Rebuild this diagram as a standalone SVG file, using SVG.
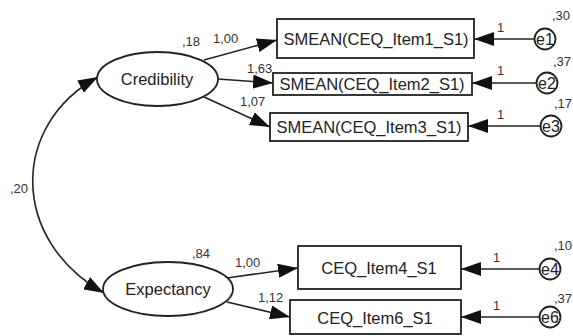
<svg xmlns="http://www.w3.org/2000/svg" width="573" height="336" viewBox="0 0 573 336">
<defs>
<style>
.node{fill:#fff;stroke:#222;stroke-width:1.8}
.t{font-family:"Liberation Sans",Arial,sans-serif;font-size:16.5px;fill:#222;text-anchor:middle;dominant-baseline:central}
.et{font-family:"Liberation Sans",Arial,sans-serif;font-size:16px;fill:#222;text-anchor:middle;dominant-baseline:central}
.lb{font-family:"Liberation Sans",Arial,sans-serif;font-size:13px;fill:#333}
.c{fill:none;stroke:#222;stroke-width:1.6}
</style>
<marker id="ah" markerUnits="userSpaceOnUse" markerWidth="20" markerHeight="14" viewBox="0 0 20 14" refX="20" refY="7" orient="auto-start-reverse">
<path d="M0,0 L20,7 L0,14 Z" fill="#111"/>
</marker>
</defs>
<rect width="573" height="336" fill="#fff"/>
<g id="connectors">
<path class="c" d="M98,77 C10,125 10,240 104,293" marker-start="url(#ah)" marker-end="url(#ah)"/>
<line class="c" x1="204" y1="60" x2="277" y2="40" marker-end="url(#ah)"/>
<line class="c" x1="218" y1="79" x2="273" y2="83" marker-end="url(#ah)"/>
<line class="c" x1="204" y1="97" x2="270" y2="127" marker-end="url(#ah)"/>
<line class="c" x1="227" y1="278" x2="298" y2="268" marker-end="url(#ah)"/>
<line class="c" x1="227" y1="302" x2="290" y2="317" marker-end="url(#ah)"/>
<line class="c" x1="534" y1="39" x2="474" y2="39" marker-end="url(#ah)"/>
<line class="c" x1="537" y1="83" x2="472" y2="83" marker-end="url(#ah)"/>
<line class="c" x1="541" y1="126" x2="468" y2="126" marker-end="url(#ah)"/>
<line class="c" x1="540" y1="269" x2="461" y2="269" marker-end="url(#ah)"/>
<line class="c" x1="540" y1="317" x2="461" y2="317" marker-end="url(#ah)"/>
</g>
<g id="credibility"><ellipse class="node" cx="157.5" cy="79" rx="60.5" ry="27"/><text class="t" x="157" y="79">Credibility</text></g>
<g id="expectancy"><ellipse class="node" cx="168" cy="289" rx="65" ry="27"/><text class="t" x="168" y="289">Expectancy</text></g>
<g id="item1"><rect class="node" x="277" y="19" width="197" height="39"/><text class="t" x="376" y="39">SMEAN(CEQ_Item1_S1)</text></g>
<g id="item2"><rect class="node" x="273" y="73" width="199" height="22"/><text class="t" x="372" y="84">SMEAN(CEQ_Item2_S1)</text></g>
<g id="item3"><rect class="node" x="270" y="113" width="198" height="28"/><text class="t" x="369" y="127">SMEAN(CEQ_Item3_S1)</text></g>
<g id="item4"><rect class="node" x="298" y="246" width="163" height="43"/><text class="t" x="379" y="268">CEQ_Item4_S1</text></g>
<g id="item6"><rect class="node" x="290" y="300" width="171" height="34"/><text class="t" x="375" y="318">CEQ_Item6_S1</text></g>
<g id="e1"><circle class="node" cx="545" cy="39" r="10.5"/><text class="et" x="545" y="39">e1</text></g>
<g id="e2"><circle class="node" cx="547" cy="83" r="10.5"/><text class="et" x="547" y="83">e2</text></g>
<g id="e3"><circle class="node" cx="551" cy="126" r="10.5"/><text class="et" x="551" y="126">e3</text></g>
<g id="e4"><circle class="node" cx="550" cy="269" r="10.5"/><text class="et" x="550" y="269">e4</text></g>
<g id="e6"><circle class="node" cx="550" cy="317" r="10.5"/><text class="et" x="550" y="317">e6</text></g>
<g id="labels">
<text class="lb" x="182" y="46">,18</text>
<text class="lb" x="213" y="43">1,00</text>
<text class="lb" x="247" y="73">1,63</text>
<text class="lb" x="240" y="106">1,07</text>
<text class="lb" x="192" y="258">,84</text>
<text class="lb" x="235" y="267">1,00</text>
<text class="lb" x="258" y="302">1,12</text>
<text class="lb" x="10" y="193">,20</text>
<text class="lb" x="552" y="20">,30</text>
<text class="lb" x="553" y="66">,37</text>
<text class="lb" x="554" y="108">,17</text>
<text class="lb" x="554" y="250">,10</text>
<text class="lb" x="554" y="303">,37</text>
<text class="lb" x="497" y="32">1</text>
<text class="lb" x="497" y="75">1</text>
<text class="lb" x="497" y="119">1</text>
<text class="lb" x="493" y="262">1</text>
<text class="lb" x="493" y="310">1</text>
</g>
</svg>
